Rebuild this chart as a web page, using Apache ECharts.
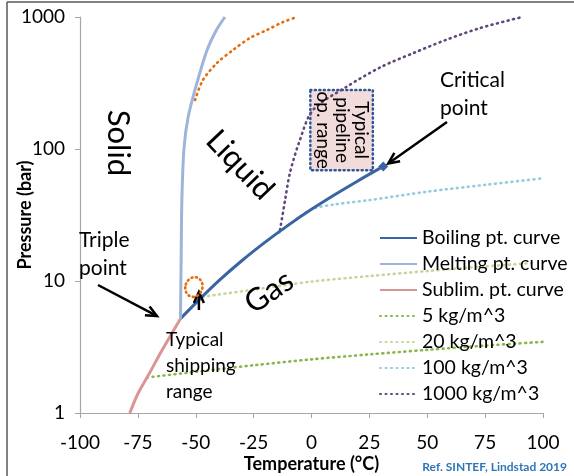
<!DOCTYPE html>
<html>
<head>
<meta charset="utf-8">
<script src="https://cdn.jsdelivr.net/npm/echarts@6/dist/echarts.min.js"></script>
<style>
  html, body { margin: 0; padding: 0; background: #fff; }
  #chart { width: 574px; height: 476px; }
</style>
</head>
<body>
<div id="chart"></div>
<script>
// CO2 phase diagram, temperature (°C) vs pressure (bar, log)
const xTicks = [-100, -75, -50, -25, 0, 25, 50, 75, 100];
const yTicks = [1, 10, 100, 1000];

const tempBoil = [-56.6, -50, -40, -30, -20, -10, 0, 10, 20, 31];
const presBoil = [5.18, 6.8, 10.05, 14.3, 19.7, 26.5, 34.9, 45.0, 57.3, 73.8];

const tempMelt = [-56.6, -56.3, -56.0, -55.1, -53.3, -49.5, -45.1, -41.0, -37.4];
const presMelt = [5.18, 15, 41, 100, 174, 316, 562, 800, 1000];

const tempSub = [-78.5, -75, -70, -65, -60, -56.6];
const presSub = [1.0, 1.4, 2.0, 2.9, 4.1, 5.18];

const temp5 = [-71, -50, -25, 0, 25, 50, 75, 100];
const pres5 = [1.86, 2.05, 2.3, 2.55, 2.78, 3.01, 3.24, 3.46];

const temp20 = [-47, -25, 0, 25, 50, 75, 96];
const pres20 = [7.6, 8.6, 9.9, 10.9, 11.9, 12.9, 13.7];

const temp100 = [-14, -10, 0, 10, 25, 50, 75, 100];
const pres100 = [23.2, 26.5, 34.9, 38, 41, 47.5, 53.5, 60];

const temp1000 = [-13.6, -11.4, -9.3, -5, 0.6, 15, 30, 44, 58, 73, 91];
const pres1000 = [24.3, 41, 66, 117, 197, 295, 418, 533, 670, 826, 1000];

// unlabelled orange isochore at the top
const tempHigh = [-50.3, -46.9, -40.8, -33.9, -26.6, -19.2, -12.3, -6.3];
const presHigh = [235, 333, 449, 562, 693, 798, 916, 1000];

const criticalPt = [31, 73.8];
const pipelineBox = [[-0.5, 280], [26.5, 69]];
const shippingPt = [-50.8, 9.0];

const pairs = (xs, ys) => xs.map((x, i) => [x, ys[i]]);

const font = "Lato, 'Open Sans', sans-serif";

function solid(name, color, xs, ys) {
  return {
    name, type: "line", data: pairs(xs, ys), symbol: "none", smooth: 0.3,
    lineStyle: { color, width: 3 }, itemStyle: { color }, z: 3,
  };
}
function dotted(name, color, xs, ys) {
  return {
    name, type: "line", data: pairs(xs, ys), symbol: "none", smooth: 0.3,
    lineStyle: { color, width: 2.6, type: [1, 4.5], cap: "round" },
    itemStyle: { color }, z: 2,
  };
}

const boil = solid("Boiling pt. curve", "#3B64A2", tempBoil, presBoil);
boil.markPoint = {
  symbol: "diamond", symbolSize: 10, label: { show: false },
  itemStyle: { color: "#3B64A2" },
  data: [{ coord: criticalPt }],
};

const pipe1000 = dotted("1000 kg/m^3", "#60497A", temp1000, pres1000);
pipe1000.markArea = {
  silent: true,
  itemStyle: { color: "#F2DCDB", borderColor: "#2F5597", borderWidth: 2.5, borderType: [1, 3.5], borderCap: "round" },
  label: { show: false },
  data: [[{ coord: pipelineBox[0] }, { coord: pipelineBox[1] }]],
};

const option = {
  animation: false,
  textStyle: { fontFamily: font },
  grid: { left: 80, right: 31, top: 17, bottom: 63, containLabel: false, outerBoundsMode: "none" },
  legend: {
    orient: "vertical", left: 374, top: 223,
    itemWidth: 37, itemHeight: 14, itemGap: 6,
    itemStyle: { opacity: 0 },
    textStyle: { fontSize: 19.5, color: "#000", lineHeight: 20, fontFamily: font },
    data: ["Boiling pt. curve", "Melting pt. curve", "Sublim. pt. curve",
      "5 kg/m^3", "20 kg/m^3", "100 kg/m^3", "1000 kg/m^3"],
  },
  xAxis: {
    type: "value", min: -100, max: 100, interval: 25,
    name: "Temperature (°C)", nameLocation: "middle", nameGap: 42, nameMoveOverlap: false,
    nameTextStyle: { fontSize: 18, fontWeight: "bold", color: "#000" },
    axisLine: { onZero: false, lineStyle: { color: "#A6A6A6", width: 1.2 } },
    axisTick: { show: true, length: 5, lineStyle: { color: "#A6A6A6" } },
    axisLabel: { fontSize: 19, color: "#000", margin: 20, formatter: (v) => String(v) },
    splitLine: { show: false },
  },
  yAxis: {
    type: "log", logBase: 10, min: 1, max: 1000,
    name: "Pressure (bar)", nameLocation: "middle", nameGap: 46, nameMoveOverlap: false,
    nameTextStyle: { fontSize: 18, fontWeight: "bold", color: "#000" },
    axisLine: { show: true, onZero: false, lineStyle: { color: "#A6A6A6", width: 1.2 } },
    axisTick: { show: true, length: 5, lineStyle: { color: "#A6A6A6" } },
    axisLabel: { fontSize: 19, color: "#000", margin: 15, formatter: (v) => String(Math.round(v)) },
    splitLine: { show: false },
  },
  series: [
    boil,
    solid("Melting pt. curve", "#9DB5DA", tempMelt, presMelt),
    solid("Sublim. pt. curve", "#D99694", tempSub, presSub),
    dotted("5 kg/m^3", "#8CB54A", temp5, pres5),
    dotted("20 kg/m^3", "#C4D79B", temp20, pres20),
    dotted("100 kg/m^3", "#93CDDD", temp100, pres100),
    pipe1000,
    dotted("high density", "#E46C0A", tempHigh, presHigh),
  ],
};

const chart = echarts.init(document.getElementById("chart"));
chart.setOption(option);

function arrow(x1, y1, x2, y2) {
  const a = Math.atan2(y2 - y1, x2 - x1), L = 11, W = 5;
  const bx = x2 - L * Math.cos(a), by = y2 - L * Math.sin(a);
  return {
    type: "group", silent: true, z: 100, children: [
      { type: "line", z: 100, shape: { x1, y1, x2: x2 - 3 * Math.cos(a), y2: y2 - 3 * Math.sin(a) }, style: { stroke: "#000", lineWidth: 2.5 } },
      { type: "polyline", z: 100, shape: { points: [[bx - W * Math.sin(a), by + W * Math.cos(a)], [x2, y2], [bx + W * Math.sin(a), by - W * Math.cos(a)]] }, style: { stroke: "#000", lineWidth: 2.5, fill: null } },
    ],
  };
}
function label(text, x, y, size, rot, align, lh) {
  return {
    type: "text", x, y, rotation: rot || 0, silent: true, z: 100,
    style: { text, fontSize: size, fontFamily: font, fill: "#000", align: align || "center", verticalAlign: "middle", lineHeight: lh || size * 1.35 },
  };
}

const ship = chart.convertToPixel({ gridIndex: 0 }, shippingPt);
const crit = chart.convertToPixel({ gridIndex: 0 }, criticalPt);
const boxA = chart.convertToPixel({ gridIndex: 0 }, pipelineBox[0]);
const boxB = chart.convertToPixel({ gridIndex: 0 }, pipelineBox[1]);

chart.setOption({
  graphic: [
    { type: "line", shape: { x1: 7, y1: 2, x2: 574, y2: 2 }, style: { stroke: "#595959", lineWidth: 1.5 }, silent: true },
    { type: "line", shape: { x1: 7, y1: 2, x2: 7, y2: 476 }, style: { stroke: "#595959", lineWidth: 1.5 }, silent: true },
    label("Solid", 118, 143, 31, -Math.PI / 2),
    label("Liquid", 240, 165, 31, -0.81),
    label("Gas", 269, 292, 31, 0.6),
    label("Critical\npoint", 440, 94, 21, 0, "left"),
    label("Triple\npoint", 79, 254, 21, 0, "left"),
    label("Typical\nshipping\nrange", 166, 366, 19, 0, "left"),
    label("Typical\npipeline\nop. range", (boxA[0] + boxB[0]) / 2 + 1, (boxA[1] + boxB[1]) / 2, 19, -Math.PI / 2, "center", 19),
    arrow(447, 122, crit[0] + 5, crit[1] - 3),
    arrow(98, 285, 157, 316),
    arrow(ship[0] + 5, ship[1] + 23, ship[0] + 5, ship[1] + 5),
    {
      type: "ellipse", silent: true, z: 100, rotation: -0.3, x: ship[0], y: ship[1],
      shape: { cx: 0, cy: 0, rx: 8.5, ry: 10 },
      style: { fill: null, stroke: "#E46C0A", lineWidth: 2.6, lineDash: [1, 3.5], lineCap: "round" },
    },
    {
      type: "text", x: 567, y: 467, silent: true,
      style: { text: "Ref. SINTEF, Lindstad 2019", fontSize: 12, fontWeight: "bold", fontFamily: font, fill: "#2E75B6", align: "right", verticalAlign: "middle" },
    },
  ],
});
</script>
</body>
</html>
